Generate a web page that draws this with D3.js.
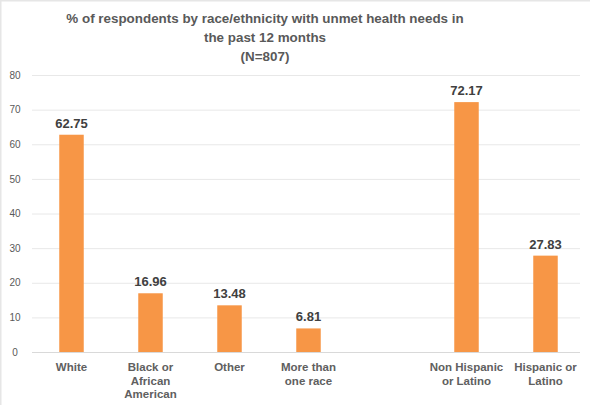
<html>
<head>
    <script src="https://cdnjs.cloudflare.com/ajax/libs/d3/7.8.5/d3.min.js"></script>
    <style>
        body { margin: 0; background: white; }
        text { font-family: Arial, "Liberation Sans", sans-serif; }
    </style>
</head>
<body>
    <script>
        // categories (the blank one is the gap between race and ethnicity groups)
        var categories = ["White", "Black or African American", "Other", "More than one race", "gap", "Non Hispanic or Latino", "Hispanic or Latino"];
        var labelLines = [["White"], ["Black or", "African", "American"], ["Other"], ["More than", "one race"], [], ["Non Hispanic", "or Latino"], ["Hispanic or", "Latino"]];
        var values = [62.75, 16.96, 13.48, 6.81, null, 72.17, 27.83];
        var yTicks = [0, 10, 20, 30, 40, 50, 60, 70, 80];
        var titleLines = ["% of respondents by race/ethnicity with unmet health needs in", "the past 12 months", "(N=807)"];

        var width = 590, height = 405;

        var svg = d3.select("body").append("svg")
            .attr("width", width)
            .attr("height", height);

        svg.append("rect")
            .attr("x", 0.5).attr("y", 0.5)
            .attr("width", width + 5).attr("height", height + 5)
            .attr("fill", "white")
            .attr("stroke", "#e6e6e6")
            .attr("stroke-width", 2);

        var x = d3.scaleBand()
            .domain(categories)
            .range([32, 585])
            .padding(0);

        var y = d3.scaleLinear()
            .domain([0, 80])
            .range([352, 75]);

        var barW = x.bandwidth() * 0.31;

        // gridlines
        svg.append("g").selectAll("line")
            .data(yTicks)
            .enter().append("line")
            .attr("x1", 32).attr("x2", 580)
            .attr("y1", d => y(d) + 0.5).attr("y2", d => y(d) + 0.5)
            .attr("stroke", d => d == 0 ? "#d9d9d9" : "#e8e8e8")
            .attr("stroke-width", 1);

        var yAxis = d3.axisLeft(y).tickValues(yTicks).tickSize(0).tickPadding(0);
        var yg = svg.append("g").attr("transform", "translate(22,0)").call(yAxis);
        yg.select(".domain").remove();
        yg.selectAll("text")
            .attr("fill", "#595959")
            .style("font-size", "10px")
            .attr("text-anchor", "middle")
            .attr("x", -7);

        var rows = categories.map((c, i) => ({ cat: c, v: values[i], lines: labelLines[i] }));

        svg.append("g").selectAll("rect")
            .data(rows.filter(d => d.v != null))
            .enter().append("rect")
            .attr("x", d => x(d.cat) + x.bandwidth() / 2 - barW / 2)
            .attr("y", d => y(d.v))
            .attr("width", barW)
            .attr("height", d => y(0) - y(d.v))
            .attr("fill", "#f79646");

        svg.append("g").selectAll("text")
            .data(rows.filter(d => d.v != null))
            .enter().append("text")
            .attr("x", d => x(d.cat) + x.bandwidth() / 2)
            .attr("y", d => y(d.v) - 7)
            .attr("text-anchor", "middle")
            .attr("fill", "#404040")
            .style("font-size", "13px")
            .style("font-weight", "bold")
            .text(d => d.v.toFixed(2));

        // category labels
        var lab = svg.append("g").selectAll("text")
            .data(rows)
            .enter().append("text")
            .attr("x", d => x(d.cat) + x.bandwidth() / 2)
            .attr("y", 371)
            .attr("text-anchor", "middle")
            .attr("fill", "#606060")
            .style("font-size", "11.5px")
            .style("font-weight", "bold");
        lab.selectAll("tspan")
            .data(d => d.lines)
            .enter().append("tspan")
            .attr("x", function () { return d3.select(this.parentNode).attr("x"); })
            .attr("dy", (d, i) => i == 0 ? 0 : 13.7)
            .text(d => d);

        // title
        svg.append("g").selectAll("text")
            .data(titleLines)
            .enter().append("text")
            .attr("x", 265)
            .attr("y", (d, i) => 23 + i * 19)
            .attr("text-anchor", "middle")
            .attr("fill", "#595959")
            .style("font-size", "13.4px")
            .style("font-weight", "bold")
            .text(d => d);
    </script>
</body>
</html>
